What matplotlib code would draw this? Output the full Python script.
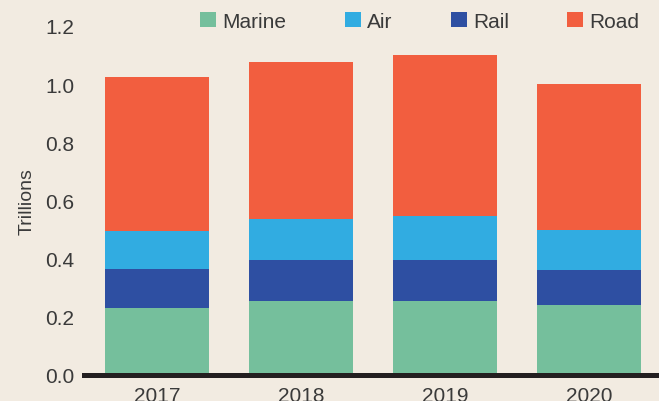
import matplotlib.pyplot as plt
from matplotlib.patches import Patch

plt.rcParams.update({'font.family': 'Liberation Sans', 'font.size': 15})

years = ['2017', '2018', '2019', '2020']
marine = [0.23, 0.255, 0.255, 0.24]
rail = [0.135, 0.14, 0.14, 0.12]
air = [0.13, 0.14, 0.15, 0.14]
road = [0.53, 0.54, 0.555, 0.50]

bg = '#f2ebe1'
text_col = '#3a3a3a'
colors = {'Marine': '#75bf9c', 'Air': '#31ace1', 'Rail': '#2e4fa2', 'Road': '#f25e3f'}

fig = plt.figure(figsize=(6.59, 4.02), dpi=100, facecolor=bg)
ax = fig.add_axes([0.1275, 0.0647, 0.8725, 0.8686], facecolor=bg)

x = list(range(len(years)))
w = 0.722
bottom = [0.0] * len(years)
for name, vals in [('Marine', marine), ('Rail', rail), ('Air', air), ('Road', road)]:
    ax.bar(x, vals, width=w, bottom=bottom, color=colors[name], linewidth=0)
    bottom = [b + v for b, v in zip(bottom, vals)]

ax.axhline(0, color='#231f20', linewidth=3.6, zorder=5, clip_on=False)

ax.set_xlim(-0.507, 3.486)
ax.set_ylim(0, 1.2)
ax.set_yticks([0, 0.2, 0.4, 0.6, 0.8, 1.0, 1.2])
ax.set_yticklabels(['0.0', '0.2', '0.4', '0.6', '0.8', '1.0', '1.2'])
ax.set_xticks(x)
ax.set_xticklabels(years)
ax.tick_params(length=0, colors=text_col, labelsize=15)
ax.tick_params(axis='y', pad=7)
ax.tick_params(axis='x', pad=8)
for s in ax.spines.values():
    s.set_visible(False)
ax.set_ylabel('Trillions', color=text_col, fontsize=14, labelpad=7)

handles = [Patch(facecolor=colors[n], edgecolor='none', label=n) for n in ['Marine', 'Air', 'Rail', 'Road']]
fig.legend(handles=handles, loc='center left', bbox_to_anchor=(0.304, 0.945), ncol=4, frameon=False,
           handlelength=0.77, handleheight=0.77, handletextpad=0.3, columnspacing=2.79,
           borderaxespad=0, borderpad=0, labelcolor=text_col, fontsize=15)

plt.savefig('out.png', dpi=100, facecolor=bg)
plt.close()
